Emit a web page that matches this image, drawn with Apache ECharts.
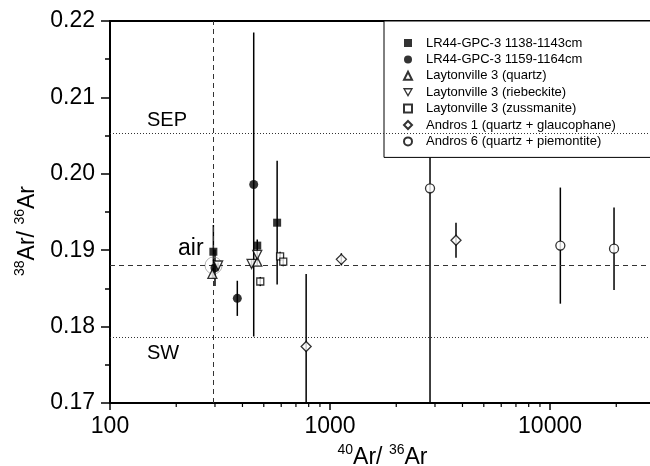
<!DOCTYPE html>
<html>
<head>
<meta charset="utf-8">
<script src="https://cdn.jsdelivr.net/npm/echarts@6/dist/echarts.min.js"></script>
<style>
  html, body { margin: 0; padding: 0; background: #fff; }
  #chart { width: 650px; height: 466px; }
</style>
</head>
<body>
<div id="chart"></div>
<script>
// axis ranges and tick labels
var xMin = 100, xMax = 30000;
var yMin = 0.17, yMax = 0.22;
var xTickLabels = [100, 1000, 10000];
var xMinorTicks = [200, 300, 400, 500, 600, 700, 800, 900, 2000, 3000, 4000, 5000, 6000, 7000, 8000, 9000, 20000];

// reference values
var airX = 295.5, airY = 0.188;
var sepY = 0.2053, swY = 0.1786;

// LR44-GPC-3 1138-1143cm
var lr1138X = [295, 467, 575];
var lr1138Y = [0.1898, 0.1906, 0.1936];
var lr1138E = [0.0035, 0.0008, 0.0081];
// LR44-GPC-3 1159-1164cm
var lr1159X = [300, 379, 450];
var lr1159Y = [0.1877, 0.1837, 0.1986];
var lr1159E = [0.0024, 0.0023, 0.0199];
// Laytonville 3 (quartz)
var layQzX = [292, 467];
var layQzY = [0.1869, 0.1885];
var layQzE = [0.0005, 0.0005];
// Laytonville 3 (riebeckite)
var layRbX = [310, 440, 467];
var layRbY = [0.1880, 0.1882, 0.1894];
var layRbE = [0.0004, 0.0005, 0.0005];
// Laytonville 3 (zussmanite)
var layZsX = [482, 593, 613];
var layZsY = [0.1859, 0.1892, 0.1885];
var layZsE = [0.0006, 0.0006, 0.0006];
// Andros 1 (quartz + glaucophane)
var and1X = [779, 1126, 3738];
var and1Y = [0.1774, 0.1888, 0.1913];
var and1E = [0.0095, 0.0008, 0.0023];
// Andros 6 (quartz + piemontite)
var and6X = [2848, 11140, 19540];
var and6Y = [0.1981, 0.1906, 0.1902];
var and6E = [0.030, 0.0076, 0.0054];

var groups = [
  {name: 'LR44-GPC-3 1138-1143cm', x: lr1138X, y: lr1138Y, e: lr1138E, symbol: 'rect', size: 8, filled: true},
  {name: 'LR44-GPC-3 1159-1164cm', x: lr1159X, y: lr1159Y, e: lr1159E, symbol: 'circle', size: 9, filled: true},
  {name: 'Laytonville 3 (quartz)', x: layQzX, y: layQzY, e: layQzE, symbol: 'triangle', size: 9},
  {name: 'Laytonville 3 (riebeckite)', x: layRbX, y: layRbY, e: layRbE, symbol: 'triangle', size: 9, rotate: 180,
    legendIcon: 'path://M0,0L10,0L5,8.66Z'},
  {name: 'Laytonville 3 (zussmanite)', x: layZsX, y: layZsY, e: layZsE, symbol: 'rect', size: 7},
  {name: 'Andros 1 (quartz + glaucophane)', x: and1X, y: and1Y, e: and1E, symbol: 'diamond', size: 10},
  {name: 'Andros 6 (quartz + piemontite)', x: and6X, y: and6Y, e: and6E, symbol: 'circle', size: 9}
];

var FONT = '"Liberation Sans", Arial, sans-serif';
var openStyle = {color: '#fff', borderColor: '#000', borderWidth: 1.3};

var errData = [];
groups.forEach(function (g) {
  g.x.forEach(function (xv, i) {
    errData.push([xv, g.y[i] - g.e[i], g.y[i] + g.e[i]]);
  });
});

var series = [];

series.push({
  type: 'custom',
  name: 'err',
  z: 2,
  silent: true,
  data: errData,
  encode: {x: 0, y: [1, 2]},
  renderItem: function (params, api) {
    var lo = Math.max(api.value(1), yMin), hi = Math.min(api.value(2), yMax);
    var p1 = api.coord([api.value(0), lo]);
    var p2 = api.coord([api.value(0), hi]);
    return {
      type: 'line',
      shape: {x1: p1[0], y1: p1[1], x2: p2[0], y2: p2[1]},
      style: {stroke: '#000', lineWidth: 1.5}
    };
  },
  markLine: {
    silent: true,
    symbol: 'none',
    precision: 5,
    label: {show: false},
    lineStyle: {color: '#333', width: 1},
    data: [
      {yAxis: airY, lineStyle: {type: [5, 4]}},
      {xAxis: airX, lineStyle: {type: [5, 4]}},
      {yAxis: sepY, lineStyle: {type: [1, 2]}},
      {yAxis: swY, lineStyle: {type: [1, 2]}}
    ]
  }
});

// minor ticks on the log axis
series.push({
  type: 'custom',
  name: 'minor',
  silent: true,
  clip: false,
  data: xMinorTicks.map(function (v) { return [v, yMin]; }),
  encode: {x: 0, y: 1},
  renderItem: function (params, api) {
    var p = api.coord([api.value(0), yMin]);
    return {
      type: 'line',
      shape: {x1: p[0], y1: p[1], x2: p[0], y2: p[1] + 4},
      style: {stroke: '#000', lineWidth: 1.2}
    };
  }
});

// air marker
series.push({
  type: 'scatter',
  name: 'air',
  silent: true,
  z: 3,
  symbol: 'circle',
  symbolSize: 17,
  itemStyle: {color: 'rgba(0,0,0,0)', borderColor: '#888', borderWidth: 0.8},
  data: [[airX, airY]]
});

groups.forEach(function (g) {
  series.push({
    type: 'scatter',
    name: g.name,
    z: 5,
    symbol: g.symbol,
    symbolSize: g.size,
    symbolRotate: g.rotate || 0,
    itemStyle: g.filled ? {color: '#000'} : openStyle,
    data: g.x.map(function (xv, i) { return [xv, g.y[i]]; })
  });
});

var legendData = groups.map(function (g) {
  if (g.legendIcon) {
    return {name: g.name, icon: g.legendIcon, itemStyle: openStyle};
  }
  return g.name;
});

var chart = echarts.init(document.getElementById('chart'), null, {renderer: 'canvas'});
chart.setOption({
  backgroundColor: '#fff',
  animation: false,
  textStyle: {fontFamily: FONT},
  grid: {
    left: 110, top: 21, right: -5, bottom: 63,
    containLabel: false,
    outerBoundsMode: 'none',
    show: true, borderColor: '#000', borderWidth: 2, backgroundColor: 'transparent'
  },
  legend: {
    data: legendData,
    orient: 'vertical',
    left: 384,
    top: 21,
    padding: [15, 40, 9, 19],
    itemWidth: 8,
    itemHeight: 8,
    itemGap: 2.4,
    backgroundColor: '#fff',
    borderColor: '#000',
    borderWidth: 1,
    selectedMode: false,
    textStyle: {fontFamily: FONT, fontSize: 13, color: '#000', lineHeight: 14, padding: [0, 0, 0, 9]}
  },
  xAxis: {
    type: 'log',
    logBase: 10,
    min: xMin,
    max: xMax,
    splitLine: {show: false},
    axisLine: {lineStyle: {color: '#000', width: 2}},
    axisTick: {length: 7, lineStyle: {color: '#000', width: 1.5}},
    axisLabel: {
      color: '#000', fontSize: 23, fontFamily: FONT, margin: 12,
      showMaxLabel: false,
      formatter: function (v) {
        var r = Math.round(v);
        return xTickLabels.indexOf(r) >= 0 ? String(r) : '';
      }
    },
    name: '{s|40}{n|Ar/ }{s|36}{n|Ar}',
    nameLocation: 'middle',
    nameGap: 36,
    nameTextStyle: {
      color: '#000',
      rich: {
        n: {fontSize: 23, fontFamily: FONT, color: '#000', verticalAlign: 'bottom', lineHeight: 26},
        s: {fontSize: 14, fontFamily: FONT, color: '#000', verticalAlign: 'top', lineHeight: 14}
      }
    }
  },
  yAxis: {
    type: 'value',
    min: yMin,
    max: yMax,
    interval: 0.01,
    splitLine: {show: false},
    axisLine: {lineStyle: {color: '#000', width: 2}},
    axisTick: {length: 9, lineStyle: {color: '#000', width: 1.5}},
    minorTick: {show: true, splitNumber: 2, length: 5, lineStyle: {color: '#000', width: 1.5}},
    axisLabel: {
      color: '#000', fontSize: 23, fontFamily: FONT, margin: 15,
      formatter: function (v) { return v.toFixed(2); }
    },
    name: '{s|38}{n|Ar/ }{s|36}{n|Ar}',
    nameLocation: 'middle',
    nameRotate: 90,
    nameGap: 70,
    nameTextStyle: {
      color: '#000',
      padding: [0, 38, 0, 0],
      rich: {
        n: {fontSize: 23, fontFamily: FONT, color: '#000', verticalAlign: 'bottom', lineHeight: 26},
        s: {fontSize: 14, fontFamily: FONT, color: '#000', verticalAlign: 'top', lineHeight: 14}
      }
    }
  },
  graphic: [
    {type: 'text', left: 147, top: 110, z: 10, style: {text: 'SEP', font: '20px ' + FONT, fill: '#000'}},
    {type: 'text', left: 147, top: 343, z: 10, style: {text: 'SW', font: '20px ' + FONT, fill: '#000'}},
    {type: 'text', left: 178, top: 237, z: 10, style: {text: 'air', font: '23px ' + FONT, fill: '#000'}}
  ],
  series: series
});
</script>
</body>
</html>
